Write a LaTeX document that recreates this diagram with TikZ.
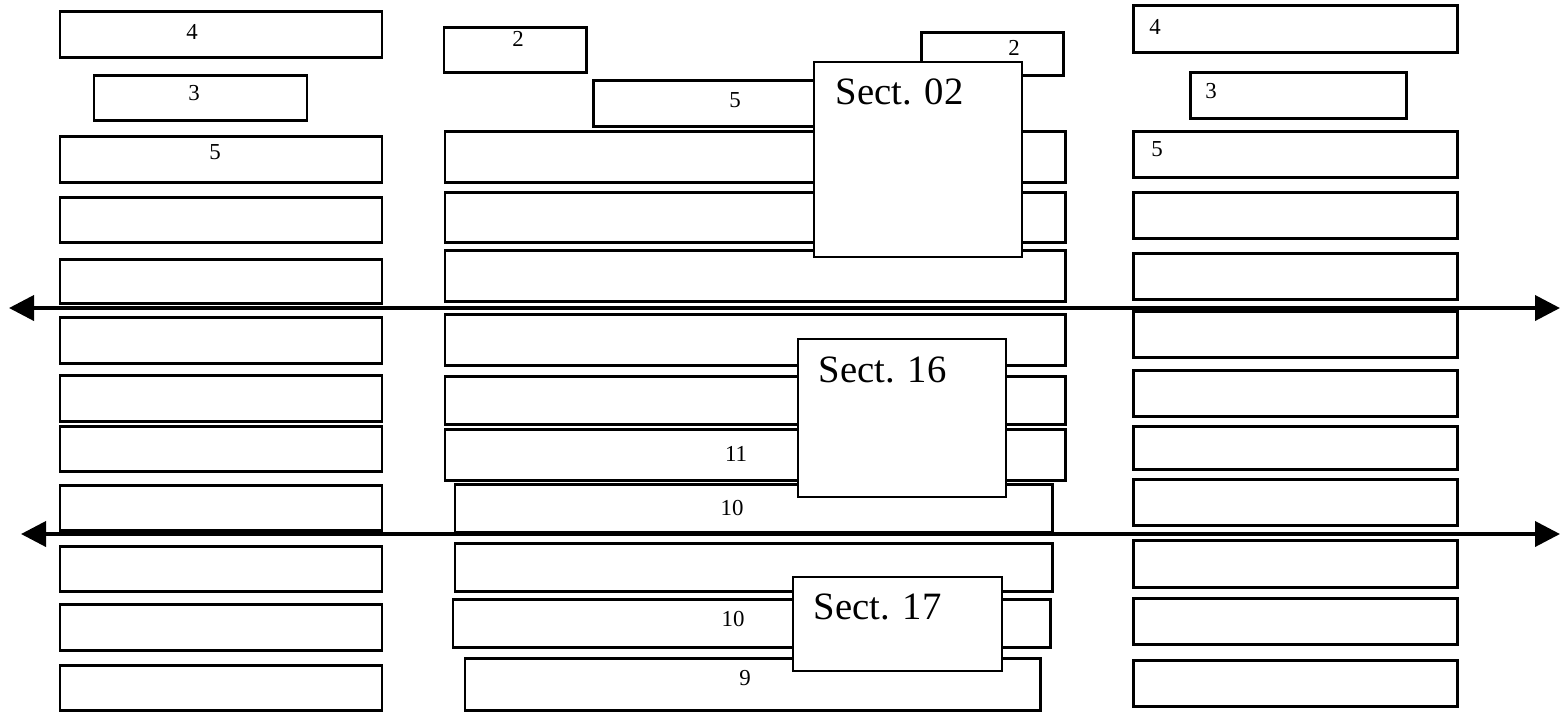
\documentclass[tikz,border=0pt]{standalone}
\usepackage{fontspec}
\setmainfont{Liberation Serif}
\usetikzlibrary{fit,arrows.meta}
\tikzset{
  bar/.style={draw=black, fill=white, line width=0.85pt, inner sep=0pt},
  sectbox/.style={draw=black, fill=white, line width=0.65pt, inner sep=0pt},
  num/.style={inner sep=0pt, font=\fontsize{6.5}{8}\selectfont},
  secttxt/.style={inner sep=0pt, anchor=west, font=\fontsize{11}{13}\selectfont},
  axis/.style={line width=1.1pt, {Triangle[length=0.25cm,width=0.25cm]}-{Triangle[length=0.25cm,width=0.25cm]}}
}
\newcommand{\barbox}[5]{\node[bar, fit={(#2,#3) (#4,#5)}] (#1) {};}
\begin{document}
\begin{tikzpicture}[x=0.01cm,y=-0.01cm]
\useasboundingbox (0,0) rectangle (1560,711);
% left column
\barbox{L1}{60}{11}{382}{57}
\barbox{L2}{94}{75}{307}{120}
\barbox{L3}{60}{136}{382}{182}
\barbox{L4}{60}{197}{382}{242}
\barbox{L5}{60}{259}{382}{303}
\barbox{L6}{60}{317}{382}{363}
\barbox{L7}{60}{375}{382}{421}
\barbox{L8}{60}{426}{382}{471}
\barbox{L9}{60}{485}{382}{530}
\barbox{L10}{60}{546}{382}{591}
\barbox{L11}{60}{604}{382}{650}
\barbox{L12}{60}{665}{382}{710}
\node[num] (tL1) at (192,32) {4};
\node[num] (tL2) at (194,93) {3};
\node[num] (tL3) at (215,152) {5};
% middle column
\barbox{M1}{444}{27}{586}{72}
\barbox{M2}{921}{32}{1063}{75}
\barbox{M3}{593}{80}{900}{126}
\barbox{M4}{445}{131}{1065}{182}
\barbox{M5}{445}{192}{1065}{242}
\barbox{M6}{445}{250}{1065}{301}
\barbox{M7}{445}{314}{1065}{365}
\barbox{M8}{445}{376}{1065}{424}
\barbox{M9}{445}{429}{1065}{480}
\barbox{M10}{455}{484}{1052}{532}
\barbox{M11}{455}{543}{1052}{591}
\barbox{M12}{453}{599}{1050}{647}
\barbox{M13}{465}{658}{1040}{710}
\node[num] (tM1) at (518,39) {2};
\node[num] (tM2) at (1014,48) {2};
\node[num] (tM3) at (735,100) {5};
\node[num] (tM9) at (736,454) {11};
\node[num] (tM10) at (732,508) {10};
\node[num] (tM12) at (733,619) {10};
\node[num] (tM13) at (745,678) {9};
% right column
\barbox{R1}{1133}{5}{1457}{52}
\barbox{R2}{1190}{72}{1406}{118}
\barbox{R3}{1133}{131}{1457}{177}
\barbox{R4}{1133}{192}{1457}{238}
\barbox{R5}{1133}{253}{1457}{299}
\barbox{R6}{1133}{311}{1457}{357}
\barbox{R7}{1133}{370}{1457}{416}
\barbox{R8}{1133}{426}{1457}{469}
\barbox{R9}{1133}{479}{1457}{525}
\barbox{R10}{1133}{540}{1457}{587}
\barbox{R11}{1133}{598}{1457}{644}
\barbox{R12}{1133}{660}{1457}{706}
\node[num] (tR1) at (1155,27) {4};
\node[num] (tR2) at (1211,91) {3};
\node[num] (tR3) at (1157,149) {5};
% section boxes
\node[sectbox, fit={(814,62) (1022,257)}] (S02) {};
\node[sectbox, fit={(798,339) (1006,497)}] (S16) {};
\node[sectbox, fit={(793,577) (1002,671)}] (S17) {};
\node[secttxt] (tS02) at (835,92) {Sect. 02};
\node[secttxt] (tS16) at (818,370) {Sect. 16};
\node[secttxt] (tS17) at (813,607) {Sect. 17};
% arrows
\coordinate (a1l) at (9,308);
\coordinate (a1r) at (1560,308);
\coordinate (a2l) at (21,534);
\coordinate (a2r) at (1560,534);
\draw[axis] (a1l) -- (a1r);
\draw[axis] (a2l) -- (a2r);
\end{tikzpicture}
\end{document}
